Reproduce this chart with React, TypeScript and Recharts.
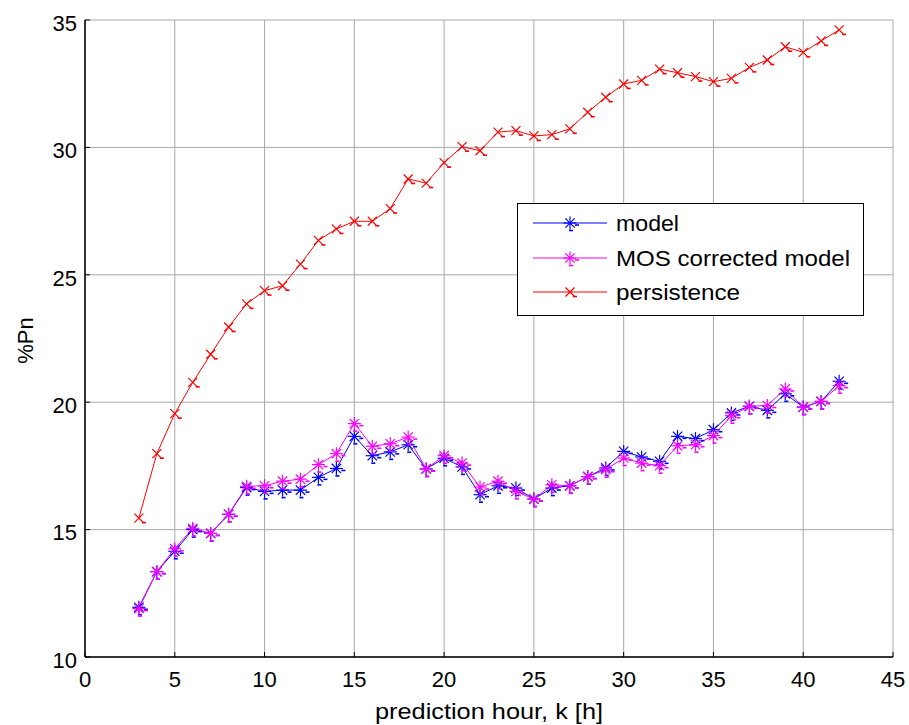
import React from 'react';
import {
  LineChart,
  Line,
  XAxis,
  YAxis,
  CartesianGrid,
  Legend,
} from 'recharts';

const HOURS = [
  3, 4, 5, 6, 7, 8, 9, 10, 11, 12, 13, 14, 15, 16, 17, 18, 19, 20, 21, 22,
  23, 24, 25, 26, 27, 28, 29, 30, 31, 32, 33, 34, 35, 36, 37, 38, 39, 40, 41, 42,
];

const MODEL = [
  11.95, 13.35, 14.15, 15.0, 14.85, 15.6, 16.65, 16.5, 16.55, 16.55,
  17.05, 17.4, 18.66, 17.9, 18.05, 18.33, 17.38, 17.8, 17.46, 16.37,
  16.72, 16.63, 16.2, 16.63, 16.72, 17.08, 17.42, 18.07, 17.85, 17.68,
  18.66, 18.57, 18.92, 19.58, 19.84, 19.68, 20.33, 19.81, 20.03, 20.82,
];

const MOS = [
  11.9, 13.35, 14.25, 15.05, 14.85, 15.6, 16.7, 16.72, 16.9, 16.98,
  17.55, 17.98, 19.16, 18.27, 18.37, 18.63, 17.38, 17.9, 17.61, 16.67,
  16.9, 16.5, 16.2, 16.76, 16.72, 17.08, 17.35, 17.81, 17.61, 17.51,
  18.29, 18.33, 18.69, 19.47, 19.84, 19.87, 20.52, 19.81, 20.03, 20.65,
];

const PERSISTENCE = [
  15.45, 17.98, 19.55, 20.78, 21.88, 22.95, 23.86, 24.38, 24.57, 25.42,
  26.35, 26.8, 27.1, 27.1, 27.6, 28.76, 28.6, 29.4, 30.03, 29.87,
  30.6, 30.66, 30.45, 30.5, 30.73, 31.38, 31.97, 32.49, 32.63, 33.07,
  32.93, 32.78, 32.58, 32.71, 33.14, 33.43, 33.95, 33.73, 34.18, 34.61,
];

const X_TICKS = [0, 5, 10, 15, 20, 25, 30, 35, 40, 45];
const Y_TICKS = [10, 15, 20, 25, 30, 35];

const SERIES = [
  { key: 'model', name: 'model', color: '#0000ff', marker: 'star', textW: 63 },
  { key: 'mos', name: 'MOS corrected model', color: '#ff00ff', marker: 'star', textW: 234 },
  { key: 'persistence', name: 'persistence', color: '#ff0000', marker: 'x', textW: 124 },
];

const FONT = '"Liberation Sans", Arial, Helvetica, sans-serif';

const data = HOURS.map((k, i) => ({
  k,
  model: MODEL[i],
  mos: MOS[i],
  persistence: PERSISTENCE[i],
}));

function Marker({ cx, cy, color, kind }: { cx: number; cy: number; color: string; kind: string }) {
  if (kind === 'x') {
    const r = 4.5;
    return (
      <g stroke={color} strokeWidth={1.2} fill="none">
        <line x1={cx - r} y1={cy - r} x2={cx + r} y2={cy + r} />
        <line x1={cx - r} y1={cy + r} x2={cx + r} y2={cy - r} />
        <line x1={cx + 3} y1={cy + 4.5} x2={cx + 7} y2={cy + 4.5} strokeWidth={1.6} />
      </g>
    );
  }
  const r = 6.5;
  const d = r * 0.72;
  return (
    <g stroke={color} strokeWidth={1.2} fill="none">
      <line x1={cx} y1={cy - r} x2={cx} y2={cy + r} />
      <line x1={cx - r} y1={cy} x2={cx + r} y2={cy} />
      <line x1={cx - d} y1={cy - d} x2={cx + d} y2={cy + d} />
      <line x1={cx - d} y1={cy + d} x2={cx + d} y2={cy - d} />
      <line x1={cx + 5} y1={cy + 2} x2={cx + 9} y2={cy + 2} strokeWidth={1.6} />
      <line x1={cx - 1} y1={cy + 7.5} x2={cx + 3} y2={cy + 7.5} strokeWidth={1.6} />
    </g>
  );
}

function LegendBox() {
  const rows = [20, 55, 89];
  return (
    <svg width={347} height={113} style={{ display: 'block' }}>
      <rect x={0.5} y={0.5} width={346} height={112} fill="#fff" stroke="#000" strokeWidth={1} />
      {SERIES.map((s, i) => (
        <g key={s.key}>
          <line x1={16} y1={rows[i]} x2={90} y2={rows[i]} stroke={s.color} strokeWidth={1} />
          <Marker cx={53} cy={rows[i]} color={s.color} kind={s.marker} />
          <text
            x={99}
            y={rows[i] + 8}
            fontSize={22}
            fontFamily={FONT}
            fill="#000"
            textLength={s.textW}
            lengthAdjust="spacingAndGlyphs"
          >
            {s.name}
          </text>
        </g>
      ))}
    </svg>
  );
}

export default function App() {
  const tickStyle = { fill: '#000', fontSize: 22, fontFamily: FONT };
  return (
    <div style={{ position: 'absolute', left: 0, top: 0, background: '#fff' }}>
      <LineChart
        width={909}
        height={725}
        data={data}
        margin={{ top: 20, right: 16, bottom: 28, left: 25 }}
      >
        <CartesianGrid
          stroke="#a8a8a8"
          strokeWidth={1}
          horizontalValues={Y_TICKS}
          verticalValues={X_TICKS}
        />
        <XAxis
          dataKey="k"
          type="number"
          domain={[0, 45]}
          ticks={X_TICKS}
          height={40}
          tickSize={-5}
          tickMargin={19}
          axisLine={{ stroke: '#000', strokeWidth: 1.5 }}
          tickLine={{ stroke: '#000' }}
          tick={tickStyle}
          interval={0}
          label={{
            content: (props: any) => {
              const vb = props.viewBox;
              return (
                <text
                  x={vb.x + vb.width / 2}
                  y={vb.y + 62}
                  textAnchor="middle"
                  fontSize={22}
                  fontFamily={FONT}
                  fill="#000"
                  textLength={228}
                  lengthAdjust="spacingAndGlyphs"
                >
                  prediction hour, k [h]
                </text>
              );
            },
          }}
        />
        <XAxis
          xAxisId="top"
          dataKey="k"
          type="number"
          orientation="top"
          domain={[0, 45]}
          ticks={X_TICKS}
          height={0}
          tickSize={-5}
          tickFormatter={() => ''}
          axisLine={{ stroke: '#000', strokeWidth: 1.5 }}
          tickLine={{ stroke: '#000' }}
          interval={0}
        />
        <YAxis
          type="number"
          domain={[10, 35]}
          ticks={Y_TICKS}
          width={60}
          tickSize={-5}
          tickMargin={13}
          axisLine={{ stroke: '#000', strokeWidth: 1.5 }}
          tickLine={{ stroke: '#000' }}
          tick={{ ...tickStyle, dy: 3 }}
          interval={0}
          label={{
            content: (props: any) => {
              const vb = props.viewBox;
              const x = vb.x + 8;
              const y = vb.y + vb.height / 2 + 2;
              return (
                <text
                  x={x}
                  y={y}
                  transform={`rotate(-90 ${x} ${y})`}
                  textAnchor="middle"
                  fontSize={22}
                  fontFamily={FONT}
                  fill="#000"
                >
                  %Pn
                </text>
              );
            },
          }}
        />
        <YAxis
          yAxisId="right"
          type="number"
          orientation="right"
          domain={[10, 35]}
          ticks={Y_TICKS}
          width={0}
          tickSize={-5}
          tickFormatter={() => ''}
          axisLine={{ stroke: '#000', strokeWidth: 1.5 }}
          tickLine={{ stroke: '#000' }}
          interval={0}
        />
        <Legend
          layout="horizontal"
          verticalAlign="middle"
          align="center"
          wrapperStyle={{ position: 'absolute', left: 517, top: 203, width: 347, height: 113 }}
          content={() => <LegendBox />}
        />
        {SERIES.map((s) => (
          <Line
            key={s.key}
            dataKey={s.key}
            name={s.name}
            type="linear"
            stroke={s.color}
            strokeWidth={1}
            isAnimationActive={false}
            activeDot={false}
            dot={(p: any) => (
              <Marker key={`${s.key}-${p.index}`} cx={p.cx} cy={p.cy} color={s.color} kind={s.marker} />
            )}
          />
        ))}
      </LineChart>
    </div>
  );
}
